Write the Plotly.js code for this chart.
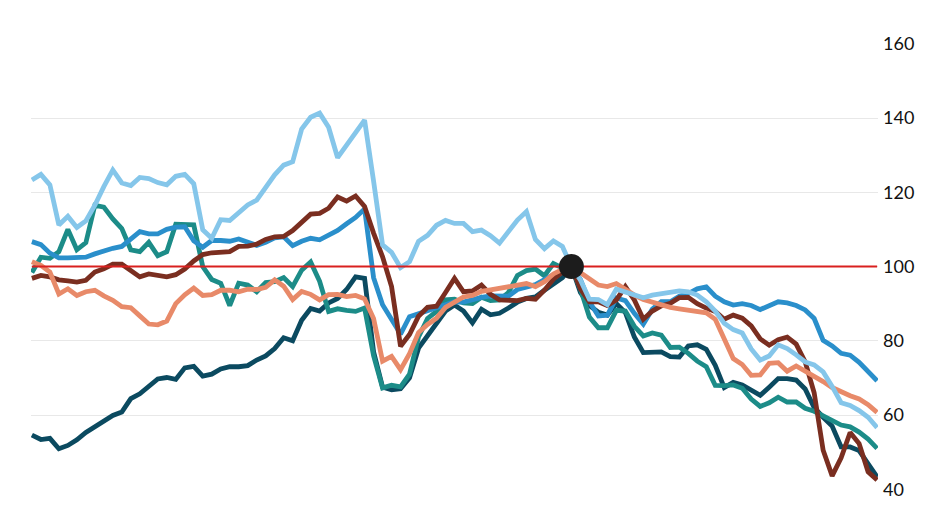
<!DOCTYPE html>
<html>
<head>
<meta charset="utf-8">
<script src="https://cdn.plot.ly/plotly-3.0.1.min.js"></script>
<style>html,body{margin:0;padding:0;background:#fff;}#chart{width:946px;height:532px;}</style>
</head>
<body>
<div id="chart"></div>
<script>
// Time index (equal steps); the marked base point is at step 60
const steps = Array.from({length: 95}, (_, i) => i);
const baseStep = 60;
const baseValue = 100;

const navy = [54.6,53.4,53.7,50.9,51.8,53.3,55.3,56.9,58.3,59.9,60.8,64.4,65.7,67.7,69.7,70.1,69.6,72.7,73.1,70.5,71,72.4,73,73,73.3,74.8,75.9,77.9,80.8,80,85.5,88.7,88,90.2,91.4,93.8,97.2,96.8,77,67.5,66.8,67.1,70,78,81.5,84.8,88,89.6,88,84.8,88.5,87,87.4,88.8,90.4,91.4,91.8,93.6,95.2,97,100,93,89.5,87.7,86.9,90,87.6,81,76.8,77,77,75.7,75.6,78.6,78.9,77.7,73.4,67.4,68.8,68.1,66.7,65.3,67.5,69.8,69.8,69.4,67,62,59.4,57,51.4,51.4,50.4,46.8,43.3];

const teal = [98.4,102.5,102.2,104,110,104.5,106.4,116.5,116,112.8,110.2,104.5,104,106.5,102.9,104,111.4,111.3,111.2,100,96.5,95.5,89.5,95.5,95,93.2,95.7,95.9,97,94.6,99,101.2,96,87.9,88.6,88.2,87.9,88.8,76,67.3,68,67.6,71,81,86,87.9,91,91.2,90.2,90,91.7,90.8,91,93,97.6,98.9,99.3,97.5,100.8,99.6,100,94,86.4,83.5,83.5,88.2,88,83.9,81.3,82.1,81.5,78.2,78.3,76.6,74.5,73,68,67.9,68.1,67.2,64.3,62.3,63.3,64.8,63.5,63.5,61.8,61,59.8,58.8,57.3,56.8,55.4,53.5,51];

const midBlue = [106.7,105.9,103.6,102.3,102.3,102.4,102.5,103.4,104.2,104.9,105.4,107.4,109.4,108.8,108.8,110,110.6,110.7,106.9,105.2,107,107,106.8,107.4,106.6,105.7,106.5,107.7,108,105.6,106.8,107.6,107.2,108.4,109.7,111.5,113.2,115.5,97,89.7,86,81.8,86.5,87.3,88,89.1,89.9,90.5,90.4,91.2,91.7,92.1,92.1,92,93.8,94.5,95.1,96.5,97.8,98.6,100,96.5,90.5,86.7,86.9,91.5,90.8,87.4,84.5,88.5,90.5,90.5,92,92.7,94,94.5,92,90.5,89.6,90,89.5,88.4,89.5,90.5,90.2,89.5,88.3,86,80.1,78.6,76.6,76.1,74.2,71.7,69.2];

const brown = [96.8,97.6,97.2,96.4,96.1,95.8,96.3,98.5,99.4,100.6,100.6,98.8,97.2,98,97.6,97.2,97.8,99.3,101.5,103.2,103.7,104,104,105.4,105.5,106,107.3,108,108.1,109.7,111.7,114.1,114.3,115.7,118.7,117.6,119,116.2,109,102.6,94.6,78.5,81.7,86.6,89,89.3,93,96.8,93.2,93.4,95,92.5,91,90.9,90.8,91.4,91.2,93.6,96.6,98.5,100,94,90.5,90.5,89.5,91,94.6,91,85.8,88,89.4,90.1,91.6,91.7,90,88.8,87.9,85.8,86.9,86.1,84,80.5,78.8,80.3,81,79.1,74.3,66,50.5,43.6,48.5,55.3,52.3,44.7,42.5];

const salmon = [101.3,100.3,98.5,92.6,94,92.2,93.2,93.6,92.1,90.9,89.2,88.9,86.7,84.5,84.3,85.3,90,92.4,94.2,92.2,92.4,93.6,93.6,93.2,93.9,93.8,94.4,96.4,94.7,91.1,93.3,92.5,91,92.4,92.5,91.9,92.2,91.3,86,74.5,75.8,72.2,76.5,82.2,84.4,86.1,89,90.5,91.8,92.2,93.3,93.7,94.1,94.7,95.1,95.4,94.6,95.9,98,99.2,100,98.2,96.8,95,94.6,95.4,93.9,92.3,91.1,90.3,89.6,89,88.6,88.2,87.8,87.5,85.8,80.5,75.2,73.6,70.7,70.8,73.9,74.1,71.8,73.2,71.9,70.3,69,67.4,66.2,65.2,64.3,62.8,60.7];

const lightBlue = [123.3,124.8,122,111.2,113.5,110.5,112.3,116.5,121.5,126,122.5,121.8,124,123.7,122.6,122,124.3,124.8,122.3,109.9,107.6,112.6,112.4,114.7,116.6,117.9,121.4,124.7,127.3,128.2,137,140.2,141.3,137.5,129.3,132.8,135.8,139.4,123,105.8,103.8,99.7,101.3,106.8,108.4,111.1,112.4,111.6,111.6,109.4,109.8,108.3,106.3,109.2,112.5,114.8,107.3,104.8,106.9,105.4,100,96.4,91.2,91.1,89.7,93.9,93.1,92.4,91.6,92.3,92.7,93,93.4,93.2,92.3,90.5,88,84.7,83,82.1,77.8,74.8,75.9,78.9,77.9,76.2,74.3,73.5,71.6,67.7,63.3,62.6,61.2,59.4,56.6];

const yTicks = [40, 60, 80, 100, 120, 140, 160];

const seriesList = [
  {name: 'navy', y: navy, color: '#0b4a60'},
  {name: 'teal', y: teal, color: '#1c8c88'},
  {name: 'midBlue', y: midBlue, color: '#2a8fcb'},
  {name: 'brown', y: brown, color: '#7a2e20'},
  {name: 'salmon', y: salmon, color: '#e88a69'},
  {name: 'lightBlue', y: lightBlue, color: '#85c6ea'}
];

const traces = seriesList.map(s => ({
  type: 'scatter', mode: 'lines', x: steps, y: s.y, name: s.name,
  line: {color: s.color, width: 4.8, shape: 'linear'},
  hoverinfo: 'skip'
}));

// Base reference line at 100 (drawn over the series, under the dot)
traces.push({
  type: 'scatter', mode: 'lines', x: [steps[0], steps[steps.length - 1]], y: [baseValue, baseValue],
  line: {color: '#d9201f', width: 2}, hoverinfo: 'skip'
});

traces.push({
  type: 'scatter', mode: 'markers', x: [baseStep], y: [baseValue],
  marker: {color: '#1c1c1c', size: 25}, hoverinfo: 'skip', cliponaxis: false
});

const layout = {
  width: 946, height: 532,
  margin: {l: 31, r: 68, t: 43, b: 42},
  paper_bgcolor: '#ffffff', plot_bgcolor: '#ffffff',
  showlegend: false,
  font: {family: 'Lato, "Open Sans", sans-serif', color: '#111111'},
  xaxis: {range: [-0.1, 94.1], showgrid: false, zeroline: false, showticklabels: false, ticks: '', showline: false, fixedrange: true},
  yaxis: {
    range: [39.8, 160.2], side: 'right', tickvals: yTicks, ticktext: yTicks.map(String),
    showgrid: true, gridcolor: '#e8e8e8', gridwidth: 1, zeroline: false, showline: false,
    ticks: '', ticklabelstandoff: 4, tickfont: {size: 18, color: '#111111', family: 'Lato, sans-serif'}, fixedrange: true
  }
};

Plotly.newPlot('chart', traces, layout, {displayModeBar: false, staticPlot: true});
</script>
</body>
</html>
